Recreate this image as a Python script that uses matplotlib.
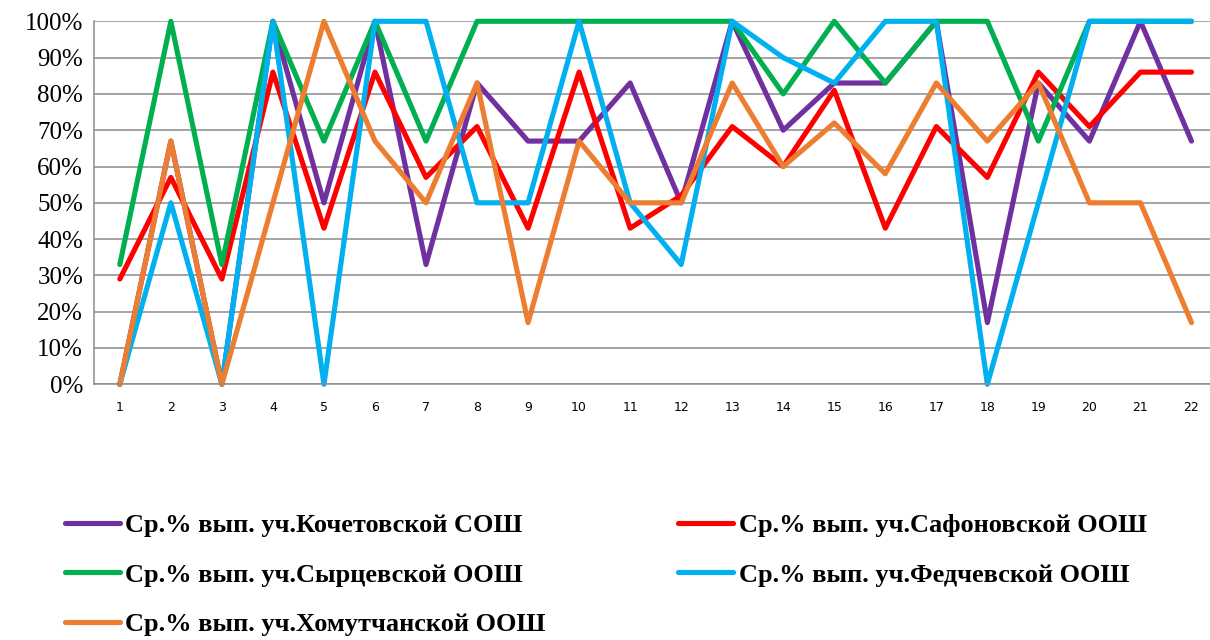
import matplotlib
matplotlib.use("Agg")
import matplotlib.pyplot as plt
from matplotlib.ticker import FuncFormatter

categories = list(range(1, 23))
series_names = [
    "Ср.% вып. уч.Кочетовской СОШ",
    "Ср.% вып. уч.Сафоновской ООШ",
    "Ср.% вып. уч.Сырцевской ООШ",
    "Ср.% вып. уч.Федчевской ООШ",
    "Ср.% вып. уч.Хомутчанской ООШ",
]
kochetovskaya = [0, 67, 0, 100, 50, 100, 33, 83, 67, 67, 83, 50, 100, 70, 83, 83, 100, 17, 83, 67, 100, 67]
safonovskaya = [29, 57, 29, 86, 43, 86, 57, 71, 43, 86, 43, 52, 71, 60, 81, 43, 71, 57, 86, 71, 86, 86]
syrtsevskaya = [33, 100, 33, 100, 67, 100, 67, 100, 100, 100, 100, 100, 100, 80, 100, 83, 100, 100, 67, 100, 100, 100]
fedchevskaya = [0, 50, 0, 100, 0, 100, 100, 50, 50, 100, 50, 33, 100, 90, 83, 100, 100, 0, 50, 100, 100, 100]
khomutchanskaya = [0, 67, 0, 50, 100, 67, 50, 83, 17, 67, 50, 50, 83, 60, 72, 58, 83, 67, 83, 50, 50, 17]
y_ticks = [0, 10, 20, 30, 40, 50, 60, 70, 80, 90, 100]

colors = ["#7030A0", "#FF0000", "#00B050", "#00B0F0", "#ED7D31"]
all_series = [kochetovskaya, safonovskaya, syrtsevskaya, fedchevskaya, khomutchanskaya]

fig = plt.figure(figsize=(12.1, 6.4), dpi=100)
ax = fig.add_axes([94.3 / 1210, 255.7 / 640, (1217 - 94.3) / 1210, 363 / 640])

handles = []
for name, vals, c in zip(series_names, all_series, colors):
    h, = ax.plot(categories, vals, color=c, lw=3.7, label=name, clip_on=False,
                 solid_joinstyle="round", solid_capstyle="round")
    handles.append(h)

ax.set_xlim(0.5, 22.5)
ax.set_ylim(0, 100)
ax.set_yticks(y_ticks)
ax.yaxis.set_major_formatter(FuncFormatter(lambda v, p: f"{int(v)}%"))
ax.set_xticks(categories)
ax.set_xticklabels([str(c) for c in categories])
ax.grid(axis="y", color="#8c8c8c", lw=1.1)
ax.set_axisbelow(True)
for s in ["top", "right"]:
    ax.spines[s].set_visible(False)
for s in ["left", "bottom"]:
    ax.spines[s].set_color("#8c8c8c")
    ax.spines[s].set_linewidth(1.1)
ax.tick_params(axis="both", length=0)
ax.tick_params(axis="y", pad=8)
ax.tick_params(axis="x", pad=12)
for lbl in ax.get_yticklabels():
    lbl.set_fontfamily("Liberation Serif")
    lbl.set_fontsize(18)
for lbl in ax.get_xticklabels():
    lbl.set_fontfamily("DejaVu Sans")
    lbl.set_fontsize(9)

order = [0, 2, 4, 1, 3]
leg = fig.legend([handles[i] for i in order], [series_names[i] for i in order],
                 ncol=2, loc="upper left", bbox_to_anchor=(41 / 1210, 1 - 490 / 640),
                 frameon=False, handlelength=2.1, handletextpad=0.2,
                 columnspacing=5.0, labelspacing=0.98,
                 prop={"family": "Liberation Serif", "weight": "bold", "size": 19})

fig.savefig("out.png", dpi=100)
